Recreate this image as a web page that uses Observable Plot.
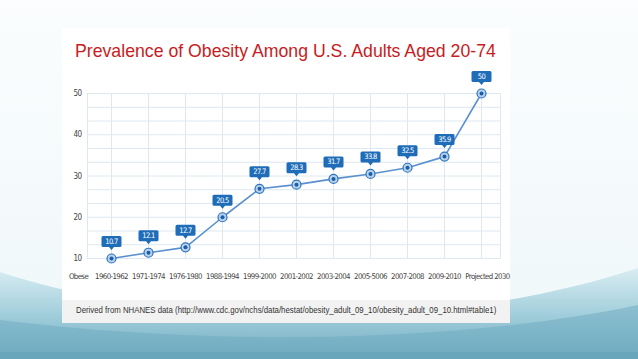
<!DOCTYPE html>
<html>
<head>
<meta charset="utf-8">
<script src="https://cdn.jsdelivr.net/npm/d3@7"></script>
<script src="https://cdn.jsdelivr.net/npm/@observablehq/plot@0.6"></script>
<style>
  html, body { margin: 0; padding: 0; }
  body { width: 638px; height: 359px; overflow: hidden; position: relative; background: #f6fbfc; }
  #bg { position: absolute; left: 0; top: 0; }
  #panel { position: absolute; left: 62px; top: 28px; width: 448px; height: 295px; background: #ffffff; }
  #title { position: absolute; left: 13px; top: 13.4px; font-family: "Liberation Sans", Arial, sans-serif; font-size: 17.7px; line-height: 20px; color: #c81b22; white-space: nowrap; }
  #chart { position: absolute; left: 0; top: 39px; }
  #caption { position: absolute; left: 0; top: 272px; width: 434px; height: 19px; padding: 0 0 4px 14px; background: #f2f2f2; font-family: "Liberation Sans", Arial, sans-serif; font-size: 9.5px; line-height: 19px; color: #333; white-space: nowrap; }
  #caption span { display: inline-block; transform: scaleX(0.823); transform-origin: 0 50%; }
</style>
</head>
<body>
<svg id="bg" width="638" height="359">
  <defs>
    <linearGradient id="g1" x1="0" y1="0" x2="0" y2="1">
      <stop offset="0" stop-color="#d9edf2"/>
      <stop offset="0.5" stop-color="#a3cfdc"/>
      <stop offset="1" stop-color="#6eabc0"/>
    </linearGradient>
    <linearGradient id="g0" x1="0" y1="0" x2="0" y2="1">
      <stop offset="0" stop-color="#fbfdfe"/>
      <stop offset="1" stop-color="#eef7f9"/>
    </linearGradient>
  </defs>
  <rect width="638" height="359" fill="url(#g0)"/>
  <path d="M0,272 C150,322 420,340 638,268 L638,359 L0,359 Z" fill="url(#g1)"/>
  <path d="M0,320 C200,345 450,345 638,305 L638,359 L0,359 Z" fill="#6eaac0" opacity="0.5"/>
  <rect y="352" width="638" height="7" fill="#68a6bc"/>
</svg>
<div id="panel">
  <div id="title">Prevalence of Obesity Among U.S. Adults Aged 20-74</div>
  <div id="chart"></div>
  <div id="caption"><span>Derived from NHANES data (http://www.cdc.gov/nchs/data/hestat/obesity_adult_09_10/obesity_adult_09_10.html#table1)</span></div>
</div>
<script>
const periods = ["1960-1962","1971-1974","1976-1980","1988-1994","1999-2000","2001-2002","2003-2004","2005-5006","2007-2008","2009-2010","Projected 2030"];
const plotted = [10, 11.4, 12.7, 20, 26.9, 27.9, 29.3, 30.5, 32, 34.7, 50];
const labels = ["10.7","12.1","12.7","20.5","27.7","28.3","31.7","33.8","32.5","35.9","50"];
const yTicks = [10, 20, 30, 40, 50];
const yGrid = d3.range(13).map(i => 10 + i * 10 / 3);

const data = periods.map((p, i) => ({period: p, value: plotted[i], label: labels[i]}));

const callout = {
  draw(ctx) {
    const w = 10, top = -22.5, bot = -11.5, r = 1.5;
    ctx.moveTo(-w + r, top);
    ctx.lineTo(w - r, top);
    ctx.arcTo(w, top, w, top + r, r);
    ctx.lineTo(w, bot - r);
    ctx.arcTo(w, bot, w - r, bot, r);
    ctx.lineTo(2.5, bot);
    ctx.lineTo(0, bot + 3);
    ctx.lineTo(-2.5, bot);
    ctx.lineTo(-w + r, bot);
    ctx.arcTo(-w, bot, -w, bot - r, r);
    ctx.lineTo(-w, top + r);
    ctx.arcTo(-w, top, -w + r, top, r);
    ctx.closePath();
  }
};

const font = "'DejaVu Sans Condensed', 'Liberation Sans Narrow', 'DejaVu Sans', sans-serif";

const chart = Plot.plot({
  width: 448,
  height: 233,
  marginLeft: 25,
  marginRight: 10,
  marginTop: 26,
  marginBottom: 42,
  style: {fontFamily: font, fontStretch: "condensed", fontSize: "7.8px", letterSpacing: "-0.6px", color: "#444", background: "transparent", overflow: "visible"},
  x: {type: "point", domain: periods, padding: 0, insetLeft: 19.7, insetRight: 14},
  y: {domain: [10, 50]},
  marks: [
    Plot.gridY({ticks: yGrid, stroke: "#dde8f0", strokeOpacity: 1}),
    Plot.gridX({stroke: "#dde8f0", strokeOpacity: 1}),
    Plot.frame({stroke: "#dde8f0"}),
    Plot.axisY({ticks: yTicks, tickSize: 0, tickPadding: 6, label: null, fontSize: 8}),
    Plot.axisX({ticks: periods.slice(0, periods.length - 1), tickSize: 0, tickPadding: 14.6, label: null}),
    Plot.axisX({ticks: periods.slice(periods.length - 1), tickSize: 0, tickPadding: 14.6, label: null, dx: 6}),
    Plot.text(["Obese"], {frameAnchor: "bottom-left", textAnchor: "middle", lineAnchor: "top", dx: -9, dy: 14.6, fill: "#444"}),
    Plot.line(data, {x: "period", y: "value", stroke: "#5a90cf", strokeWidth: 1.6}),
    Plot.dot(data, {x: "period", y: "value", r: 4.5, fill: "#b7d1ee", stroke: "#2f74bd", strokeWidth: 1.2}),
    Plot.dot(data, {x: "period", y: "value", r: 2, fill: "#1b5ea6"}),
    Plot.dot(data, {x: "period", y: "value", symbol: callout, fill: "#1f6db8", stroke: "none"}),
    Plot.text(data, {x: "period", y: "value", text: "label", dy: -17, fill: "white", fontSize: 7.5, letterSpacing: "-0.4px"})
  ]
});
document.getElementById("chart").appendChild(chart);
</script>
</body>
</html>
